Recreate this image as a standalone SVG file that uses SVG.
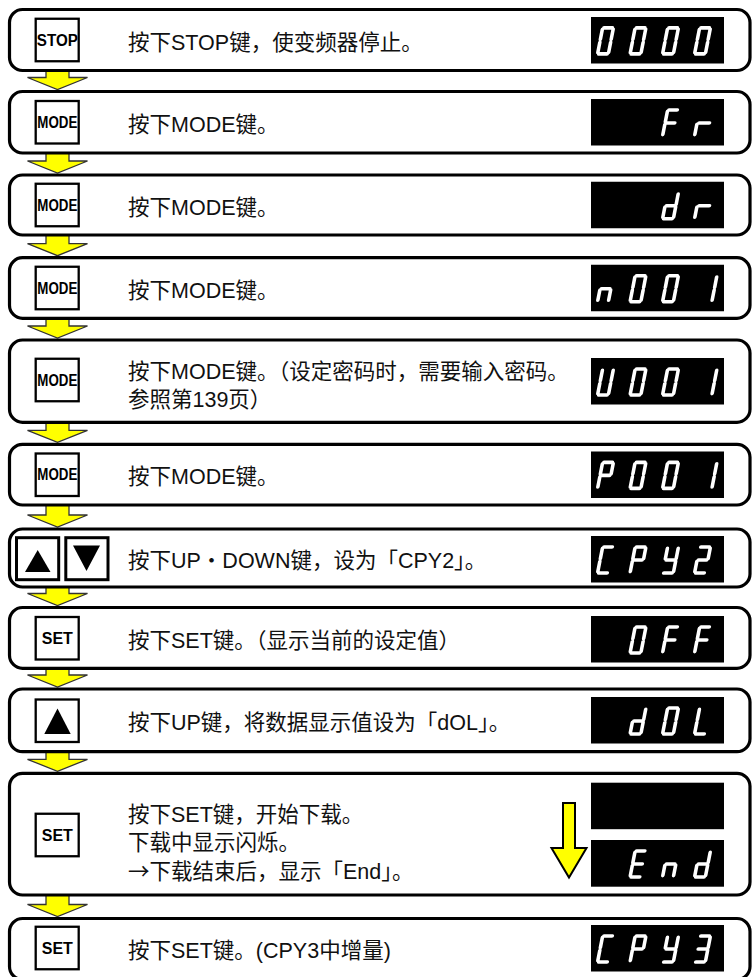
<svg xmlns="http://www.w3.org/2000/svg" xmlns:xlink="http://www.w3.org/1999/xlink" width="753" height="977" viewBox="0 0 753 977">
<defs>
<style>
.box{fill:#fff;stroke:#000;stroke-width:3.2}
.key{fill:#fff;stroke:#000;stroke-width:2.3}
.key3{fill:#fff;stroke:#000;stroke-width:3}
.klbl{font-family:"Liberation Sans",Arial,sans-serif;font-weight:bold;font-size:16px;fill:#000;text-anchor:middle}
.txt{font-family:"Liberation Sans","Noto Sans CJK SC",sans-serif;font-size:21.5px;fill:#111}
.cjk{font-family:"Noto Sans CJK SC",sans-serif}
.lcd{fill:#000}
.seg{stroke:#fff;stroke-width:3.6;stroke-linecap:round;fill:none}
.arr{fill:#ffff00;stroke:#333;stroke-width:1.3}
.bigarr{fill:#ffff00;stroke:#000;stroke-width:2}
.tri{fill:#000}
</style>
<path id="d0" d="M-4.3-13H4.3M5.4-11.6V-1.3M5.4 1.3V11.6M-4.3 13H4.3M-5.4 1.3V11.6M-5.4-11.6V-1.3"/>
<path id="d1" d="M5.4-11.6V-1.3M5.4 1.3V11.6"/>
<path id="d2" d="M-4.3-13H4.3M5.4-11.6V-1.3M-4.3 0H4.3M-5.4 1.3V11.6M-4.3 13H4.3"/>
<path id="d3" d="M-4.3-13H4.3M5.4-11.6V-1.3M-4.3 0H4.3M5.4 1.3V11.6M-4.3 13H4.3"/>
<path id="dC" d="M-4.3-13H4.3M-5.4-11.6V-1.3M-5.4 1.3V11.6M-4.3 13H4.3"/>
<path id="dP" d="M-4.3-13H4.3M5.4-11.6V-1.3M-5.4-11.6V-1.3M-4.3 0H4.3M-5.4 1.3V11.6"/>
<path id="dy" d="M-5.4-11.6V-1.3M5.4-11.6V-1.3M-4.3 0H4.3M5.4 1.3V11.6M-4.3 13H4.3"/>
<path id="dF" d="M-4.3-13H4.3M-5.4-11.6V-1.3M-4.3 0H4.3M-5.4 1.3V11.6"/>
<path id="dr" d="M-5.4 1.3V11.6M-3.6 0H7"/>
<path id="dn" d="M-4.3 0H4.3M-5.4 1.3V11.6M5.4 1.3V11.6"/>
<path id="dd" d="M5.4-11.6V-1.3M5.4 1.3V11.6M-4.3 13H4.3M-5.4 1.3V11.6M-4.3 0H4.3"/>
<path id="dE" d="M-4.3-13H4.3M-5.4-11.6V-1.3M-4.3 0H4.3M-5.4 1.3V11.6M-4.3 13H4.3"/>
<path id="dU" d="M5.4-11.6V-1.3M5.4 1.3V11.6M-4.3 13H4.3M-5.4 1.3V11.6M-5.4-11.6V-1.3"/>
<path id="dL" d="M-5.4-11.6V-1.3M-5.4 1.3V11.6M-4.3 13H4.3"/>
</defs>
<rect width="753" height="977" fill="#fff"/>

<g id="connectors">
<polygon class="arr" points="46,70.5 69,70.5 69,77.5 87.5,77.5 57.5,89.5 27.5,77.5 46,77.5"/>
<polygon class="arr" points="46,153 69,153 69,161 87.5,161 57.5,173 27.5,161 46,161"/>
<polygon class="arr" points="46,235 69,235 69,243.7 87.5,243.7 57.5,255.7 27.5,243.7 46,243.7"/>
<polygon class="arr" points="46,318.3 69,318.3 69,326 87.5,326 57.5,338 27.5,326 46,326"/>
<polygon class="arr" points="46,422.3 69,422.3 69,430.3 87.5,430.3 57.5,442.3 27.5,430.3 46,430.3"/>
<polygon class="arr" points="46,505 69,505 69,515 87.5,515 57.5,527 27.5,515 46,515"/>
<polygon class="arr" points="46,587 69,587 69,593.5 87.5,593.5 57.5,605.5 27.5,593.5 46,593.5"/>
<polygon class="arr" points="46,668.3 69,668.3 69,675 87.5,675 57.5,687 27.5,675 46,675"/>
<polygon class="arr" points="46,751.7 69,751.7 69,759.3 87.5,759.3 57.5,771.3 27.5,759.3 46,759.3"/>
<polygon class="arr" points="46,895 69,895 69,904.5 87.5,904.5 57.5,916.5 27.5,904.5 46,904.5"/>
</g>

<g id="step1">
<rect class="box" x="9.5" y="9.5" width="740.5" height="61" rx="13"/>
<rect class="key" x="35.7" y="18.75" width="43" height="42.5"/>
<text class="klbl" x="57.3" y="45.6" textLength="41" lengthAdjust="spacingAndGlyphs">STOP</text>
<text class="txt" x="128" y="50">按下STOP键，使变频器停止。</text>
<rect class="lcd" x="591" y="17" width="133" height="46.5"/>
<g class="seg">
<use xlink:href="#d0" transform="translate(605.5 40.9) skewX(-11)"/>
<use xlink:href="#d0" transform="translate(638 40.9) skewX(-11)"/>
<use xlink:href="#d0" transform="translate(670.5 40.9) skewX(-11)"/>
<use xlink:href="#d0" transform="translate(702.5 40.9) skewX(-11)"/>
</g>
</g>

<g id="step2">
<rect class="box" x="9.5" y="91.5" width="740.5" height="61.5" rx="13"/>
<rect class="key" x="35.7" y="101" width="43" height="42.5"/>
<text class="klbl" x="57.3" y="127.9" textLength="40" lengthAdjust="spacingAndGlyphs">MODE</text>
<text class="txt" x="128" y="132">按下MODE键。</text>
<rect class="lcd" x="591" y="99" width="133" height="46.5"/>
<g class="seg">
<use xlink:href="#dF" transform="translate(670.5 123) skewX(-11)"/>
<use xlink:href="#dr" transform="translate(702.5 123) skewX(-11)"/>
</g>
</g>

<g id="step3">
<rect class="box" x="9.5" y="175" width="740.5" height="60" rx="13"/>
<rect class="key" x="35.7" y="183.75" width="43" height="42.5"/>
<text class="klbl" x="57.3" y="210.6" textLength="40" lengthAdjust="spacingAndGlyphs">MODE</text>
<text class="txt" x="128" y="214.5">按下MODE键。</text>
<rect class="lcd" x="591" y="181.75" width="133" height="46.5"/>
<g class="seg">
<use xlink:href="#dd" transform="translate(670.5 205.7) skewX(-11)"/>
<use xlink:href="#dr" transform="translate(702.5 205.7) skewX(-11)"/>
</g>
</g>

<g id="step4">
<rect class="box" x="9.5" y="257.7" width="740.5" height="60.6" rx="13"/>
<rect class="key" x="35.7" y="266.75" width="43" height="42.5"/>
<text class="klbl" x="57.3" y="293.6" textLength="40" lengthAdjust="spacingAndGlyphs">MODE</text>
<text class="txt" x="128" y="297.5">按下MODE键。</text>
<rect class="lcd" x="591" y="264.75" width="133" height="46.5"/>
<g class="seg">
<use xlink:href="#dn" transform="translate(605.5 288.7) skewX(-11)"/>
<use xlink:href="#d0" transform="translate(638 288.7) skewX(-11)"/>
<use xlink:href="#d0" transform="translate(670.5 288.7) skewX(-11)"/>
<use xlink:href="#d1" transform="translate(709 288.7) skewX(-11)"/>
</g>
</g>

<g id="step5">
<rect class="box" x="9.5" y="340" width="740.5" height="82.3" rx="13"/>
<rect class="key" x="35.7" y="358.75" width="43" height="42.5"/>
<text class="klbl" x="57.3" y="385.6" textLength="40" lengthAdjust="spacingAndGlyphs">MODE</text>
<text class="txt" x="128" y="378.5">按下MODE键。（设定密码时，需要输入密码。</text>
<text class="txt" x="128" y="406.5">参照第139页）</text>
<rect class="lcd" x="591" y="358" width="133" height="46.5"/>
<g class="seg">
<use xlink:href="#dU" transform="translate(605.5 382) skewX(-11)"/>
<use xlink:href="#d0" transform="translate(638 382) skewX(-11)"/>
<use xlink:href="#d0" transform="translate(670.5 382) skewX(-11)"/>
<use xlink:href="#d1" transform="translate(709 382) skewX(-11)"/>
</g>
</g>

<g id="step6">
<rect class="box" x="9.5" y="444.3" width="740.5" height="60.7" rx="13"/>
<rect class="key" x="35.7" y="453.5" width="43" height="42.5"/>
<text class="klbl" x="57.3" y="480.3" textLength="40" lengthAdjust="spacingAndGlyphs">MODE</text>
<text class="txt" x="128" y="484">按下MODE键。</text>
<rect class="lcd" x="591" y="451.5" width="133" height="46.5"/>
<g class="seg">
<use xlink:href="#dP" transform="translate(605.5 475.4) skewX(-11)"/>
<use xlink:href="#d0" transform="translate(638 475.4) skewX(-11)"/>
<use xlink:href="#d0" transform="translate(670.5 475.4) skewX(-11)"/>
<use xlink:href="#d1" transform="translate(709 475.4) skewX(-11)"/>
</g>
</g>

<g id="step7">
<rect class="box" x="9.5" y="529" width="740.5" height="58" rx="13"/>
<rect class="key3" x="16.5" y="537.7" width="42.2" height="42"/>
<polygon class="tri" points="37.7,550 50.5,572 25,572"/>
<rect class="key3" x="65.8" y="537.7" width="42.2" height="42"/>
<polygon class="tri" points="73,545.5 100,545.5 86.5,571"/>
<text class="txt" x="128" y="567.5">按下UP・DOWN键，设为「CPY2」。</text>
<rect class="lcd" x="591" y="536" width="133" height="46.5"/>
<g class="seg">
<use xlink:href="#dC" transform="translate(605.5 560) skewX(-11)"/>
<use xlink:href="#dP" transform="translate(638 560) skewX(-11)"/>
<use xlink:href="#dy" transform="translate(670.5 560) skewX(-11)"/>
<use xlink:href="#d2" transform="translate(702.5 560) skewX(-11)"/>
</g>
</g>

<g id="step8">
<rect class="box" x="9.5" y="607.5" width="740.5" height="60.8" rx="13"/>
<rect class="key" x="35.7" y="617" width="43" height="42.5"/>
<text class="klbl" x="57.3" y="643.9">SET</text>
<text class="txt" x="128" y="647.5">按下SET键。（显示当前的设定值）</text>
<rect class="lcd" x="591" y="616" width="133" height="46.5"/>
<g class="seg">
<use xlink:href="#d0" transform="translate(638 640) skewX(-11)"/>
<use xlink:href="#dF" transform="translate(670.5 640) skewX(-11)"/>
<use xlink:href="#dF" transform="translate(702.5 640) skewX(-11)"/>
</g>
</g>

<g id="step9">
<rect class="box" x="9.5" y="689" width="740.5" height="62.7" rx="13"/>
<rect class="key" x="35.7" y="699.5" width="43" height="42.5"/>
<polygon class="tri" points="57.5,708.5 70.7,734 44.3,734"/>
<text class="txt" x="128" y="730">按下UP键，将数据显示值设为「dOL」。</text>
<rect class="lcd" x="591" y="697" width="133" height="46.5"/>
<g class="seg">
<use xlink:href="#dd" transform="translate(638 721) skewX(-11)"/>
<use xlink:href="#d0" transform="translate(670.5 721) skewX(-11)"/>
<use xlink:href="#dL" transform="translate(702.5 721) skewX(-11)"/>
</g>
</g>

<g id="step10">
<rect class="box" x="9.5" y="773.3" width="740.5" height="121.7" rx="13"/>
<rect class="key" x="35.7" y="813.75" width="43" height="42.5"/>
<text class="klbl" x="57.3" y="840.6">SET</text>
<text class="txt" x="128" y="821.5">按下SET键，开始下载。</text>
<text class="txt" x="128" y="850">下载中显示闪烁。</text>
<text class="txt" x="128" y="878.5"><tspan class="cjk">→</tspan>下载结束后，显示「End」。</text>
<polygon class="bigarr" points="563,803 575,803 575,848 586.5,848 569,877.5 551.5,848 563,848"/>
<rect class="lcd" x="591" y="782.7" width="133" height="46.5"/>
<rect class="lcd" x="591" y="840" width="133" height="46.7"/>
<g class="seg">
<use xlink:href="#dE" transform="translate(638 864) skewX(-11)"/>
<use xlink:href="#dn" transform="translate(670.5 864) skewX(-11)"/>
<use xlink:href="#dd" transform="translate(702.5 864) skewX(-11)"/>
</g>
</g>

<g id="step11">
<rect class="box" x="9.5" y="918.5" width="740.5" height="61" rx="13"/>
<rect class="key" x="35.7" y="926.75" width="43" height="42.5"/>
<text class="klbl" x="57.3" y="953.6">SET</text>
<text class="txt" x="128" y="958">按下SET键。(CPY3中增量)</text>
<rect class="lcd" x="591" y="925" width="133" height="46.5"/>
<g class="seg">
<use xlink:href="#dC" transform="translate(605.5 949) skewX(-11)"/>
<use xlink:href="#dP" transform="translate(638 949) skewX(-11)"/>
<use xlink:href="#dy" transform="translate(670.5 949) skewX(-11)"/>
<use xlink:href="#d3" transform="translate(702.5 949) skewX(-11)"/>
</g>
</g>
</svg>
